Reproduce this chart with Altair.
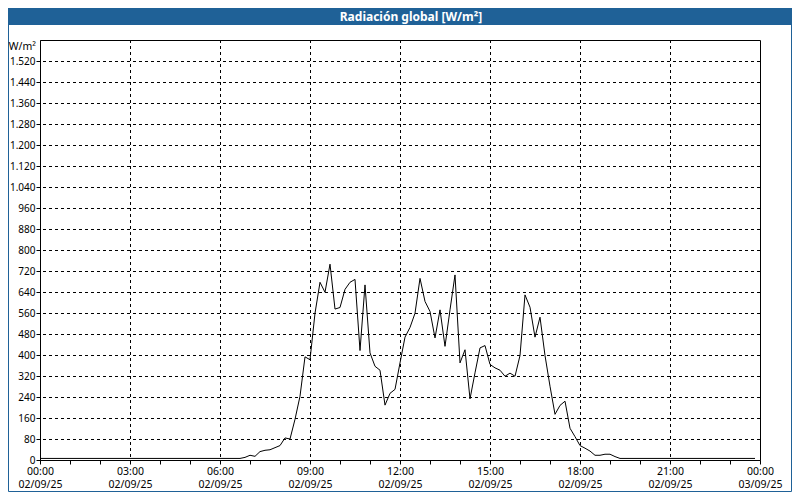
import altair as alt
import pandas as pd

TITLE = "Radiación global [W/m²]"
UNIT = "W/m²"
BLUE = "#1f6197"
FONT = "Noto Sans"

# 10-minute timestamps (minutes after midnight) and global radiation values (W/m²)
minutes = list(range(0, 1440, 10))
radiation = [
    6, 6, 6, 6, 6, 6, 6, 6, 6, 6, 6, 6, 6, 6, 6, 6, 6, 6, 6, 6,
    6, 6, 6, 6, 6, 6, 6, 6, 6, 6, 6, 6, 6, 6, 6, 6, 6, 6, 6, 6,
    6,
    10, 18, 14, 32, 37, 39, 47, 55, 84, 80,
    155, 243, 393, 382, 559, 677, 639, 746, 575, 581,
    650, 677, 688, 417, 667, 408, 357, 342, 209, 254,
    269, 370, 468, 505, 559, 692, 604, 566, 465, 572,
    433, 572, 705, 370, 420, 233, 332, 427, 436, 364,
    351, 342, 319, 331, 319, 398, 629, 582, 468, 544,
    398, 281, 174, 208, 224, 121, 89, 55, 45, 34,
    18, 18, 22, 22, 13,
    6, 6, 6, 6, 6, 6, 6, 6, 6, 6, 6, 6, 6, 6,
    6, 6, 6, 6, 6, 6, 6, 6, 6, 6, 6, 6, 6, 6,
]
assert len(radiation) == len(minutes)

x_tick_hours = [0, 3, 6, 9, 12, 15, 18, 21, 24]
x_tick_times = ["00:00", "03:00", "06:00", "09:00", "12:00", "15:00", "18:00", "21:00", "00:00"]
x_tick_dates = ["02/09/25", "02/09/25", "02/09/25", "02/09/25", "02/09/25",
                "02/09/25", "02/09/25", "02/09/25", "03/09/25"]
x_minor_hours = [0, 1, 2, 3, 4, 5, 6, 7, 8, 9, 10, 11, 12, 13, 14, 15, 16, 17, 18,
                 19, 20, 21, 22, 23, 24]
y_ticks = [0, 80, 160, 240, 320, 400, 480, 560, 640, 720, 800, 880, 960, 1040,
           1120, 1200, 1280, 1360, 1440, 1520]
y_max = 1600

df = pd.DataFrame({"hour": [m / 60 for m in minutes], "value": radiation})
vgrid = pd.DataFrame({"hour": x_tick_hours[1:-1]})
hgrid = pd.DataFrame({"value": y_ticks[1:]})

pairs = ",".join(f"['{t}','{d}']" for t, d in zip(x_tick_times, x_tick_dates))
x_label_expr = f"datum.value % 3 == 0 ? [{pairs}][datum.value / 3] : ''"
y_label_expr = "replace(format(datum.value, ','), ',', '.')"


def x_enc():
    return alt.X(
        "hour:Q",
        scale=alt.Scale(domain=[0, 24], nice=False, zero=False),
        axis=alt.Axis(values=x_minor_hours, labelExpr=x_label_expr, title=None,
                      grid=False, tickSize=4, labelPadding=2, labelOverlap=False,
                      labelFlush=False, labelLineHeight=13, labelFontSize=10.5),
    )


def y_enc():
    return alt.Y(
        "value:Q",
        scale=alt.Scale(domain=[0, y_max], nice=False),
        axis=alt.Axis(values=y_ticks, labelExpr=y_label_expr, title=None,
                      grid=False, tickSize=4, labelPadding=1, labelOverlap=False,
                      labelFlush=False, labelFontSize=10),
    )


border = alt.Chart(pd.DataFrame({"k": [0]})).mark_rect(
    fillOpacity=0, stroke=BLUE, strokeWidth=1
).encode(x=alt.value(-31.5), x2=alt.value(751.5), y=alt.value(-31.5), y2=alt.value(451.5))

title_bar = alt.Chart(pd.DataFrame({"k": [0]})).mark_rect(color=BLUE).encode(
    x=alt.value(-32), x2=alt.value(752), y=alt.value(-32), y2=alt.value(-15)
)

title_text = alt.Chart(pd.DataFrame({"t": [TITLE]})).mark_text(
    color="white", fontWeight="bold", fontSize=12, font=FONT, baseline="middle", align="center"
).encode(text="t:N", x=alt.value(371), y=alt.value(-23))

unit_text = alt.Chart(pd.DataFrame({"t": [UNIT]})).mark_text(
    color="black", fontSize=10.5, font=FONT, baseline="middle", align="right"
).encode(text="t:N", x=alt.value(-4), y=alt.value(7))

v_rules = alt.Chart(vgrid).mark_rule(
    color="black", strokeWidth=1, strokeDash=[3, 3], xOffset=0.5
).encode(x=x_enc())

h_rules = alt.Chart(hgrid).mark_rule(
    color="black", strokeWidth=1, strokeDash=[3, 3], yOffset=0.5
).encode(y=y_enc())

frame = alt.Chart(pd.DataFrame({"k": [0]})).mark_rect(
    fillOpacity=0, stroke="black", strokeWidth=1
).encode(x=alt.value(0.5), x2=alt.value(720.5), y=alt.value(0.5), y2=alt.value(420.5))

line = alt.Chart(df).mark_line(color="black", strokeWidth=1).encode(x=x_enc(), y=y_enc())

chart = alt.layer(
    border, title_bar, title_text, unit_text, v_rules, h_rules, line, frame
).properties(
    width=720,
    height=420,
    padding={"left": 32, "top": 32, "right": 32, "bottom": 32},
    autosize=alt.AutoSizeParams(type="none"),
    background="white",
).configure_view(stroke=None).configure_axis(
    domainColor="black", tickColor="black", labelColor="black",
    labelFont=FONT, domainWidth=1, tickWidth=1,
)

chart.save("out.html", embed_options={"renderer": "svg", "actions": False})
